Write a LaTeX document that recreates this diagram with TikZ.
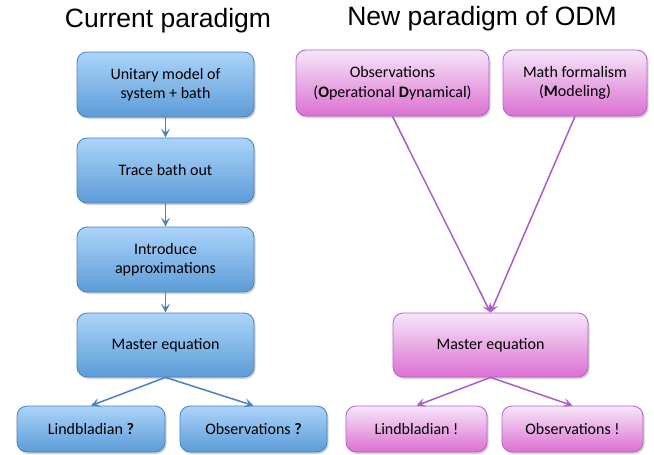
\documentclass[tikz,border=0pt]{standalone}
\usepackage{fontspec}
\setmainfont{Carlito}
\newfontfamily\titlefont{Liberation Sans}
\usetikzlibrary{arrows.meta,shadows}
\definecolor{bluetop}{RGB}{172,212,250}
\definecolor{bluebot}{RGB}{92,156,216}
\definecolor{blueline}{RGB}{78,128,188}
\definecolor{pinktop}{RGB}{246,230,249}
\definecolor{pinkbot}{RGB}{220,112,210}
\definecolor{pinkline}{RGB}{175,100,195}
\definecolor{purplearrow}{RGB}{172,92,200}
\tikzset{
  box/.style={rounded corners=10pt, line width=0.8pt, align=center,
    font=\fontsize{16}{19.5}\selectfont,
    drop shadow={shadow xshift=1.5pt, shadow yshift=-2pt, opacity=0.35}},
  bluebox/.style={box, draw=blueline, top color=bluetop, bottom color=bluebot},
  pinkbox/.style={box, draw=pinkline, top color=pinktop, bottom color=pinkbot},
  bluearrow/.style={draw=blueline, line width=1.5pt, -{Stealth[length=9pt,width=9pt,inset=4pt]}},
  pinkarrow/.style={draw=purplearrow, line width=1.5pt, -{Stealth[length=9pt,width=9pt,inset=4pt]}},
  heading/.style={font=\titlefont\fontsize{26.5}{32}\selectfont}
}

\begin{document}
\begin{tikzpicture}[x=1pt,y=-1pt]
			%%%%% START %%%%%
			\useasboundingbox (0,0) rectangle (654,455);
			
			\node[heading] (curtitle) at (168,21) {Current paradigm};
			\node[heading] (newtitle) at (482,19) {New paradigm of ODM};
			
			% current paradigm
			\node[bluebox, minimum width=177pt, minimum height=65pt] (unitary) at (165.5,84.5) {Unitary model of\\system + bath};
			\node[bluebox, minimum width=177pt, minimum height=65pt] (trace) at (165.5,170.5) {Trace bath out};
			\node[bluebox, minimum width=177pt, minimum height=65pt] (approx) at (165.5,259.5) {Introduce\\approximations};
			\node[bluebox, minimum width=177pt, minimum height=64pt] (masterL) at (165.5,345) {Master equation};
			\node[bluebox, minimum width=148pt, minimum height=46pt] (lindL) at (91,429) {Lindbladian \textbf{?}};
			\node[bluebox, minimum width=147pt, minimum height=46pt] (obsL) at (253.5,429) {Observations \textbf{?}};
			
			\draw[bluearrow] (unitary) -- (trace);
			\draw[bluearrow] (trace) -- (approx);
			\draw[bluearrow] (approx) -- (masterL);
			\draw[bluearrow] (masterL.south) -- (lindL.north);
			\draw[bluearrow] (masterL.south) -- (obsL.north);
			
			% new paradigm
			\node[pinkbox, minimum width=193pt, minimum height=66pt] (obsR) at (392.5,83) {Observations\\(\textbf{O}perational \textbf{D}ynamical)};
			\node[pinkbox, minimum width=144pt, minimum height=66pt] (math) at (575,83) {Math formalism\\(\textbf{M}odeling)};
			\node[pinkbox, minimum width=195pt, minimum height=64pt] (masterR) at (490.5,345) {Master equation};
			\node[pinkbox, minimum width=141pt, minimum height=46pt] (lindR) at (416.5,429) {Lindbladian !};
			\node[pinkbox, minimum width=141pt, minimum height=46pt] (obsR2) at (572.5,429) {Observations !};
			
			\draw[pinkarrow] (obsR.south) -- (masterR.north);
			\draw[pinkarrow] (math.south) -- (masterR.north);
			\draw[pinkarrow] (masterR.south) -- (lindR.north);
			\draw[pinkarrow] (masterR.south) -- (obsR2.north);
			%%%%% END %%%%%
\end{tikzpicture}
\end{document}
